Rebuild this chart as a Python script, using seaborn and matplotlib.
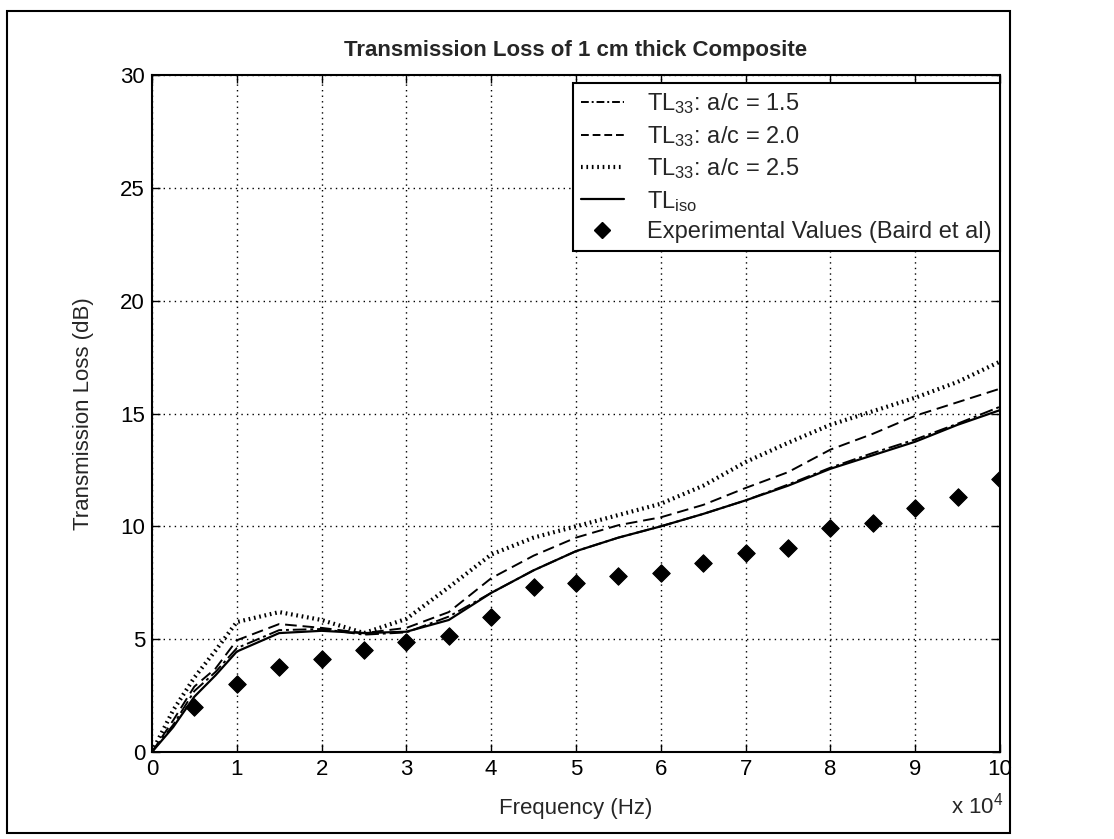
import numpy as np
import pandas as pd
import matplotlib
matplotlib.use("Agg")
import matplotlib.pyplot as plt
import seaborn as sns
from matplotlib.patches import Rectangle
from matplotlib.lines import Line2D

# data (frequency in units of 10^4 Hz)
freq = [0, 0.25, 0.5, 0.75, 1, 1.5, 2, 2.5, 3, 3.5, 4, 4.5, 5, 5.5, 6, 6.5,
        7, 7.5, 8, 8.5, 9, 9.5, 10]
tl_15 = [0, 1.2, 2.7, 3.55, 4.6, 5.4, 5.45, 5.2, 5.3, 6.0, 7.05, 8.05, 8.9, 9.5,
         10.0, 10.55, 11.15, 11.85, 12.6, 13.25, 13.85, 14.55, 15.3]
tl_20 = [0, 1.4, 2.9, 3.7, 4.95, 5.67, 5.5, 5.27, 5.5, 6.2, 7.7, 8.7, 9.5, 10.05,
         10.4, 10.95, 11.7, 12.4, 13.4, 14.1, 14.9, 15.5, 16.1]
tl_25 = [0, 1.85, 3.3, 4.5, 5.76, 6.2, 5.85, 5.27, 5.9, 7.3, 8.75, 9.5, 10.0, 10.5,
         11.0, 11.8, 12.85, 13.7, 14.5, 15.1, 15.7, 16.4, 17.3]
tl_iso = [0, 1.1, 2.45, 3.4, 4.45, 5.27, 5.37, 5.27, 5.33, 5.85, 7.05, 8.05, 8.9, 9.5,
          10.0, 10.55, 11.15, 11.8, 12.55, 13.15, 13.75, 14.5, 15.15]

exp_freq = [0.5, 1, 1.5, 2, 2.5, 3, 3.5, 4, 4.5, 5, 5.5, 6, 6.5, 7, 7.5, 8, 8.5,
            9, 9.5, 10]
exp_tl = [2.0, 3.0, 3.77, 4.1, 4.5, 4.88, 5.13, 6.0, 7.3, 7.5, 7.8, 7.93, 8.37,
          8.8, 9.04, 9.92, 10.15, 10.8, 11.3, 12.1]

labels = [r'TL$_{33}$: a/c = 1.5', r'TL$_{33}$: a/c = 2.0',
          r'TL$_{33}$: a/c = 2.5', r'TL$_{iso}$',
          'Experimental Values (Baird et al)']

sns.set_style("ticks")
plt.rcParams['font.family'] = ['Liberation Sans', 'DejaVu Sans']
plt.rcParams['mathtext.fontset'] = 'custom'
plt.rcParams['mathtext.rm'] = 'Liberation Sans'
plt.rcParams['mathtext.it'] = 'Liberation Sans'
plt.rcParams['mathtext.bf'] = 'Liberation Sans:bold'

fig = plt.figure(figsize=(11.14, 8.39), dpi=100)
ax = fig.add_axes([0.1364, 0.1037, 0.7613, 0.8069])

df = pd.DataFrame({'f': freq, 'a15': tl_15, 'a20': tl_20, 'a25': tl_25, 'iso': tl_iso})
sns.lineplot(data=df, x='f', y='a15', ax=ax, color='black', lw=1.4,
             linestyle=(0, (7, 2, 1.5, 2)), legend=False)
sns.lineplot(data=df, x='f', y='a20', ax=ax, color='black', lw=1.4,
             linestyle=(0, (6, 3)), legend=False)
sns.lineplot(data=df, x='f', y='a25', ax=ax, color='black', lw=3,
             linestyle=(0, (0.4, 0.9)), legend=False)
sns.lineplot(data=df, x='f', y='iso', ax=ax, color='black', lw=1.6,
             linestyle='-', legend=False)
sns.scatterplot(x=exp_freq, y=exp_tl, ax=ax, marker='D', s=80, color='black',
                edgecolor='black', legend=False, zorder=5)

ax.set_xlim(0, 10)
ax.set_ylim(0, 30)
ax.set_xticks(range(0, 11))
ax.set_yticks(range(0, 31, 5))
ax.tick_params(direction='in', length=6, width=1, labelsize=16, top=True,
               right=True, pad=5, colors='black')
for s in ax.spines.values():
    s.set_visible(True)
    s.set_linewidth(1.5)
    s.set_color('black')
ax.grid(True, color='black', linestyle=(0, (1, 3)), linewidth=1)
ax.set_axisbelow(True)

ax.set_title('Transmission Loss of 1 cm thick Composite', fontsize=16,
             fontweight='bold', pad=14)
ax.set_xlabel('Frequency (Hz)', fontsize=16)
ax.xaxis.set_label_coords(0.5, -0.068)
ax.set_ylabel('Transmission Loss (dB)', fontsize=16)
ax.yaxis.set_label_coords(-0.068, 0.5)
fig.text(1003 / 1114, 1 - 806 / 839, r'x 10$^4$', ha='right', va='center',
         fontsize=16)

handles = [Line2D([], [], color='black', lw=1.4, linestyle=(0, (4, 1.5, 1, 1.5))),
           Line2D([], [], color='black', lw=1.4, linestyle=(0, (4, 2))),
           Line2D([], [], color='black', lw=3, linestyle=(0, (0.4, 0.9))),
           Line2D([], [], color='black', lw=1.6),
           Line2D([], [], color='black', marker='D', linestyle='none', ms=8)]
leg = ax.legend(handles, labels, loc='upper right', bbox_to_anchor=(1.0, 0.988),
                borderaxespad=0, fontsize=17, frameon=True, fancybox=False,
                edgecolor='black', framealpha=1, handlelength=1.8,
                handletextpad=1.0, labelspacing=0.32, borderpad=0.35)
leg.get_frame().set_linewidth(1.5)

# outer frame around the figure
fig.patches.append(Rectangle((7 / 1114, 6 / 839), 1003 / 1114, 822 / 839,
                             transform=fig.transFigure, fill=False,
                             edgecolor='black', lw=1.5))

fig.savefig('out.png', dpi=100, facecolor='white')
